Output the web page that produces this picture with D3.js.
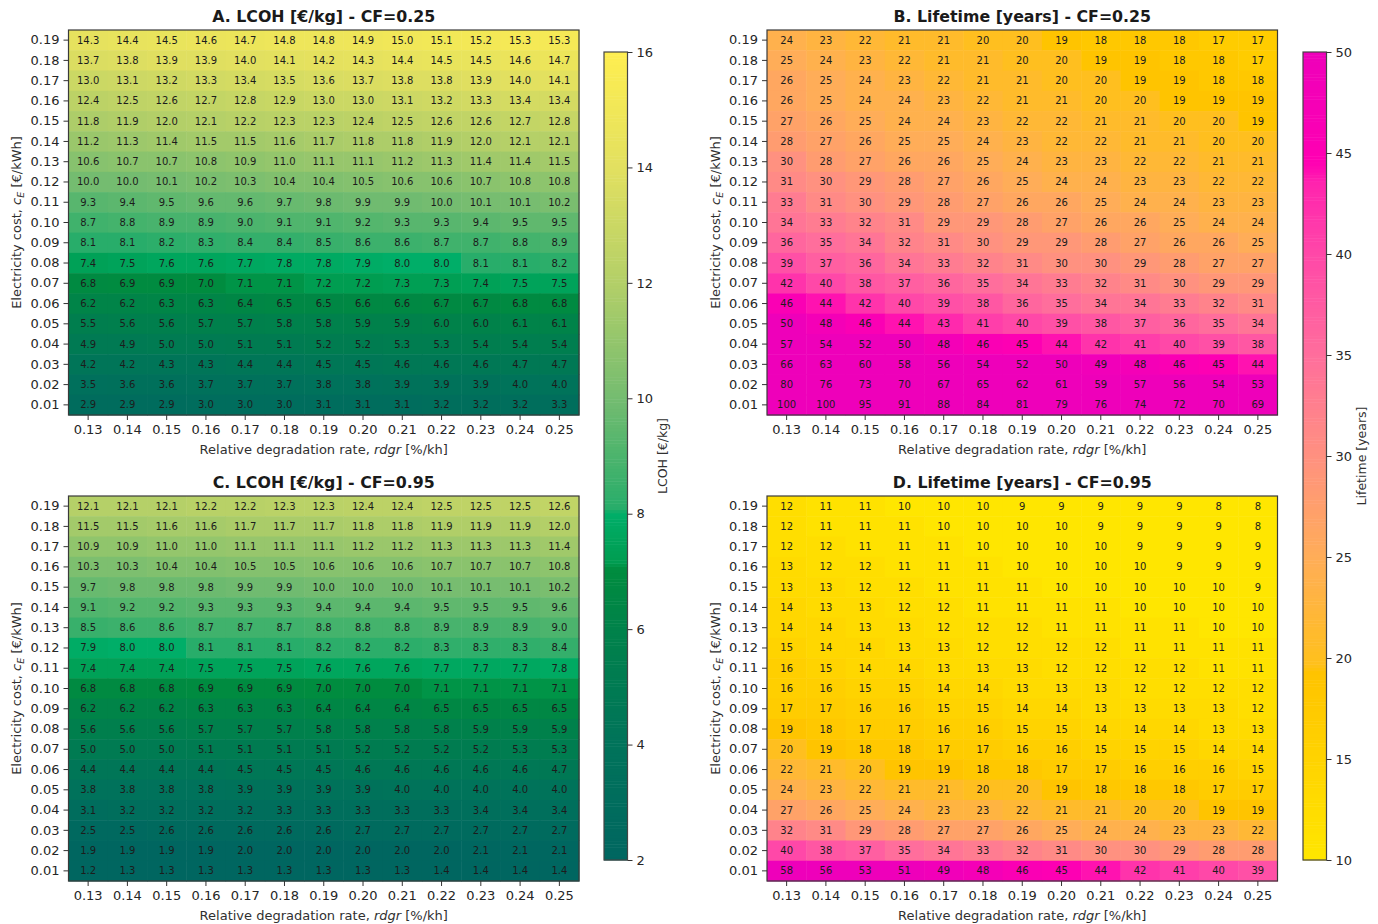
<!DOCTYPE html>
<html>
<head>
<meta charset="utf-8">
<script src="https://cdn.jsdelivr.net/npm/d3@7"></script>
<style>
html, body { margin: 0; padding: 0; background: #fff; }
svg { display: block; }
text { font-family: "DejaVu Sans", sans-serif; fill: #262626; }
.domain { display: none; }
.tick line { stroke: #333; }
.cell-label { font-size: 10px; fill: #1c1c1c; text-anchor: middle; dominant-baseline: central; }
.title { font-size: 15.8px; font-weight: bold; text-anchor: middle; fill: #1a1a1a; }
.axis-label { font-size: 13px; text-anchor: middle; fill: #303030; }
.cbar-label { font-size: 12.5px; text-anchor: middle; fill: #303030; }
</style>
</head>
<body>
<svg class="chart" width="1378" height="924"></svg>
<script>
var degradation = ['0.13', '0.14', '0.15', '0.16', '0.17', '0.18', '0.19', '0.20', '0.21', '0.22', '0.23', '0.24', '0.25'];
var electricity = ['0.19', '0.18', '0.17', '0.16', '0.15', '0.14', '0.13', '0.12', '0.11', '0.10', '0.09', '0.08', '0.07', '0.06', '0.05', '0.04', '0.03', '0.02', '0.01'];

var lcohLow = [
    [14.3, 14.4, 14.5, 14.6, 14.7, 14.8, 14.8, 14.9, 15.0, 15.1, 15.2, 15.3, 15.3],
    [13.7, 13.8, 13.9, 13.9, 14.0, 14.1, 14.2, 14.3, 14.4, 14.5, 14.5, 14.6, 14.7],
    [13.0, 13.1, 13.2, 13.3, 13.4, 13.5, 13.6, 13.7, 13.8, 13.8, 13.9, 14.0, 14.1],
    [12.4, 12.5, 12.6, 12.7, 12.8, 12.9, 13.0, 13.0, 13.1, 13.2, 13.3, 13.4, 13.4],
    [11.8, 11.9, 12.0, 12.1, 12.2, 12.3, 12.3, 12.4, 12.5, 12.6, 12.6, 12.7, 12.8],
    [11.2, 11.3, 11.4, 11.5, 11.5, 11.6, 11.7, 11.8, 11.8, 11.9, 12.0, 12.1, 12.1],
    [10.6, 10.7, 10.7, 10.8, 10.9, 11.0, 11.1, 11.1, 11.2, 11.3, 11.4, 11.4, 11.5],
    [10.0, 10.0, 10.1, 10.2, 10.3, 10.4, 10.4, 10.5, 10.6, 10.6, 10.7, 10.8, 10.8],
    [9.3, 9.4, 9.5, 9.6, 9.6, 9.7, 9.8, 9.9, 9.9, 10.0, 10.1, 10.1, 10.2],
    [8.7, 8.8, 8.9, 8.9, 9.0, 9.1, 9.1, 9.2, 9.3, 9.3, 9.4, 9.5, 9.5],
    [8.1, 8.1, 8.2, 8.3, 8.4, 8.4, 8.5, 8.6, 8.6, 8.7, 8.7, 8.8, 8.9],
    [7.4, 7.5, 7.6, 7.6, 7.7, 7.8, 7.8, 7.9, 8.0, 8.0, 8.1, 8.1, 8.2],
    [6.8, 6.9, 6.9, 7.0, 7.1, 7.1, 7.2, 7.2, 7.3, 7.3, 7.4, 7.5, 7.5],
    [6.2, 6.2, 6.3, 6.3, 6.4, 6.5, 6.5, 6.6, 6.6, 6.7, 6.7, 6.8, 6.8],
    [5.5, 5.6, 5.6, 5.7, 5.7, 5.8, 5.8, 5.9, 5.9, 6.0, 6.0, 6.1, 6.1],
    [4.9, 4.9, 5.0, 5.0, 5.1, 5.1, 5.2, 5.2, 5.3, 5.3, 5.4, 5.4, 5.4],
    [4.2, 4.2, 4.3, 4.3, 4.4, 4.4, 4.5, 4.5, 4.6, 4.6, 4.6, 4.7, 4.7],
    [3.5, 3.6, 3.6, 3.7, 3.7, 3.7, 3.8, 3.8, 3.9, 3.9, 3.9, 4.0, 4.0],
    [2.9, 2.9, 2.9, 3.0, 3.0, 3.0, 3.1, 3.1, 3.1, 3.2, 3.2, 3.2, 3.3]
];

var lcohHigh = [
    [12.1, 12.1, 12.1, 12.2, 12.2, 12.3, 12.3, 12.4, 12.4, 12.5, 12.5, 12.5, 12.6],
    [11.5, 11.5, 11.6, 11.6, 11.7, 11.7, 11.7, 11.8, 11.8, 11.9, 11.9, 11.9, 12.0],
    [10.9, 10.9, 11.0, 11.0, 11.1, 11.1, 11.1, 11.2, 11.2, 11.3, 11.3, 11.3, 11.4],
    [10.3, 10.3, 10.4, 10.4, 10.5, 10.5, 10.6, 10.6, 10.6, 10.7, 10.7, 10.7, 10.8],
    [9.7, 9.8, 9.8, 9.8, 9.9, 9.9, 10.0, 10.0, 10.0, 10.1, 10.1, 10.1, 10.2],
    [9.1, 9.2, 9.2, 9.3, 9.3, 9.3, 9.4, 9.4, 9.4, 9.5, 9.5, 9.5, 9.6],
    [8.5, 8.6, 8.6, 8.7, 8.7, 8.7, 8.8, 8.8, 8.8, 8.9, 8.9, 8.9, 9.0],
    [7.9, 8.0, 8.0, 8.1, 8.1, 8.1, 8.2, 8.2, 8.2, 8.3, 8.3, 8.3, 8.4],
    [7.4, 7.4, 7.4, 7.5, 7.5, 7.5, 7.6, 7.6, 7.6, 7.7, 7.7, 7.7, 7.8],
    [6.8, 6.8, 6.8, 6.9, 6.9, 6.9, 7.0, 7.0, 7.0, 7.1, 7.1, 7.1, 7.1],
    [6.2, 6.2, 6.2, 6.3, 6.3, 6.3, 6.4, 6.4, 6.4, 6.5, 6.5, 6.5, 6.5],
    [5.6, 5.6, 5.6, 5.7, 5.7, 5.7, 5.8, 5.8, 5.8, 5.8, 5.9, 5.9, 5.9],
    [5.0, 5.0, 5.0, 5.1, 5.1, 5.1, 5.1, 5.2, 5.2, 5.2, 5.2, 5.3, 5.3],
    [4.4, 4.4, 4.4, 4.4, 4.5, 4.5, 4.5, 4.6, 4.6, 4.6, 4.6, 4.6, 4.7],
    [3.8, 3.8, 3.8, 3.8, 3.9, 3.9, 3.9, 3.9, 4.0, 4.0, 4.0, 4.0, 4.0],
    [3.1, 3.2, 3.2, 3.2, 3.2, 3.3, 3.3, 3.3, 3.3, 3.3, 3.4, 3.4, 3.4],
    [2.5, 2.5, 2.6, 2.6, 2.6, 2.6, 2.6, 2.7, 2.7, 2.7, 2.7, 2.7, 2.7],
    [1.9, 1.9, 1.9, 1.9, 2.0, 2.0, 2.0, 2.0, 2.0, 2.0, 2.1, 2.1, 2.1],
    [1.2, 1.3, 1.3, 1.3, 1.3, 1.3, 1.3, 1.3, 1.3, 1.4, 1.4, 1.4, 1.4]
];

var lifetimeLow = [
    [24, 23, 22, 21, 21, 20, 20, 19, 18, 18, 18, 17, 17],
    [25, 24, 23, 22, 21, 21, 20, 20, 19, 19, 18, 18, 17],
    [26, 25, 24, 23, 22, 21, 21, 20, 20, 19, 19, 18, 18],
    [26, 25, 24, 24, 23, 22, 21, 21, 20, 20, 19, 19, 19],
    [27, 26, 25, 24, 24, 23, 22, 22, 21, 21, 20, 20, 19],
    [28, 27, 26, 25, 25, 24, 23, 22, 22, 21, 21, 20, 20],
    [30, 28, 27, 26, 26, 25, 24, 23, 23, 22, 22, 21, 21],
    [31, 30, 29, 28, 27, 26, 25, 24, 24, 23, 23, 22, 22],
    [33, 31, 30, 29, 28, 27, 26, 26, 25, 24, 24, 23, 23],
    [34, 33, 32, 31, 29, 29, 28, 27, 26, 26, 25, 24, 24],
    [36, 35, 34, 32, 31, 30, 29, 29, 28, 27, 26, 26, 25],
    [39, 37, 36, 34, 33, 32, 31, 30, 30, 29, 28, 27, 27],
    [42, 40, 38, 37, 36, 35, 34, 33, 32, 31, 30, 29, 29],
    [46, 44, 42, 40, 39, 38, 36, 35, 34, 34, 33, 32, 31],
    [50, 48, 46, 44, 43, 41, 40, 39, 38, 37, 36, 35, 34],
    [57, 54, 52, 50, 48, 46, 45, 44, 42, 41, 40, 39, 38],
    [66, 63, 60, 58, 56, 54, 52, 50, 49, 48, 46, 45, 44],
    [80, 76, 73, 70, 67, 65, 62, 61, 59, 57, 56, 54, 53],
    [100, 100, 95, 91, 88, 84, 81, 79, 76, 74, 72, 70, 69]
];

var lifetimeHigh = [
    [12, 11, 11, 10, 10, 10, 9, 9, 9, 9, 9, 8, 8],
    [12, 11, 11, 11, 10, 10, 10, 10, 9, 9, 9, 9, 8],
    [12, 12, 11, 11, 11, 10, 10, 10, 10, 9, 9, 9, 9],
    [13, 12, 12, 11, 11, 11, 10, 10, 10, 10, 9, 9, 9],
    [13, 13, 12, 12, 11, 11, 11, 10, 10, 10, 10, 10, 9],
    [14, 13, 13, 12, 12, 11, 11, 11, 11, 10, 10, 10, 10],
    [14, 14, 13, 13, 12, 12, 12, 11, 11, 11, 11, 10, 10],
    [15, 14, 14, 13, 13, 12, 12, 12, 12, 11, 11, 11, 11],
    [16, 15, 14, 14, 13, 13, 13, 12, 12, 12, 12, 11, 11],
    [16, 16, 15, 15, 14, 14, 13, 13, 13, 12, 12, 12, 12],
    [17, 17, 16, 16, 15, 15, 14, 14, 13, 13, 13, 13, 12],
    [19, 18, 17, 17, 16, 16, 15, 15, 14, 14, 14, 13, 13],
    [20, 19, 18, 18, 17, 17, 16, 16, 15, 15, 15, 14, 14],
    [22, 21, 20, 19, 19, 18, 18, 17, 17, 16, 16, 16, 15],
    [24, 23, 22, 21, 21, 20, 20, 19, 18, 18, 18, 17, 17],
    [27, 26, 25, 24, 23, 23, 22, 21, 21, 20, 20, 19, 19],
    [32, 31, 29, 28, 27, 27, 26, 25, 24, 24, 23, 23, 22],
    [40, 38, 37, 35, 34, 33, 32, 31, 30, 30, 29, 28, 28],
    [58, 56, 53, 51, 49, 48, 46, 45, 44, 42, 41, 40, 39]
];

var lcohTicks = [2, 4, 6, 8, 10, 12, 14, 16];
var lifetimeTicks = [10, 15, 20, 25, 30, 35, 40, 45, 50];

// colormaps, they have a step just under 8 and just under 20
var lcohColor = d3.scaleLinear()
    .domain([2, 4, 6, 7.05, 7.15, 8, 8.1, 10, 12, 14, 16])
    .range(['#006660', '#00735a', '#00824a', '#008c3e', '#009c50', '#00ae68', '#28ad6a', '#74bc70', '#b3cf68', '#e2e060', '#ffee50'])
    .clamp(true);

var lifetimeColor = d3.scaleLinear()
    .domain([10, 19.3, 19.7, 25, 30, 35, 40, 43.5, 44.5, 50])
    .range(['#ffe600', '#ffc300', '#ffc01c', '#ffad58', '#ff9180', '#ff6e9c', '#ff48a8', '#ff24ae', '#ff00b2', '#ee00ba'])
    .clamp(true);

var panels = [
    {title: 'A. LCOH [€/kg] - CF=0.25', values: lcohLow, color: lcohColor, format: d3.format('.1f'), left: 68.5, top: 30, labelX: 16},
    {title: 'B. Lifetime [years] - CF=0.25', values: lifetimeLow, color: lifetimeColor, format: d3.format('d'), left: 767, top: 30, labelX: 715},
    {title: 'C. LCOH [€/kg] - CF=0.95', values: lcohHigh, color: lcohColor, format: d3.format('.1f'), left: 68.5, top: 496, labelX: 16},
    {title: 'D. Lifetime [years] - CF=0.95', values: lifetimeHigh, color: lifetimeColor, format: d3.format('d'), left: 767, top: 496, labelX: 715}
];

var plotWidth = 510.5;
var plotHeight = 385;

var chart = d3.select('.chart');

var scaleX = d3.scaleBand().domain(degradation).range([0, plotWidth]);
var scaleY = d3.scaleBand().domain(electricity).range([0, plotHeight]);

function drawPanel(config){
    var panel = chart.append('g')
        .attr('transform', 'translate(' + [config.left, config.top] + ')');

    var rows = panel.selectAll('.row')
        .data(config.values)
        .enter().append('g')
        .attr('class', 'row')
        .attr('transform', function(d, i){ return 'translate(0,' + scaleY(electricity[i]) + ')'; });

    rows.selectAll('rect')
        .data(function(d){ return d; })
        .enter().append('rect')
        .attr('x', function(d, i){ return scaleX(degradation[i]); })
        .attr('width', scaleX.bandwidth() + 0.5)
        .attr('height', scaleY.bandwidth() + 0.5)
        .attr('fill', function(d){ return config.color(d); });

    rows.selectAll('text')
        .data(function(d){ return d; })
        .enter().append('text')
        .attr('class', 'cell-label')
        .attr('x', function(d, i){ return scaleX(degradation[i]) + scaleX.bandwidth() / 2; })
        .attr('y', scaleY.bandwidth() / 2)
        .text(config.format);

    panel.append('rect')
        .attr('width', plotWidth)
        .attr('height', plotHeight)
        .attr('fill', 'none')
        .attr('stroke', '#3a3a3a')
        .attr('stroke-width', 1.2);

    panel.append('g')
        .attr('transform', 'translate(0,' + plotHeight + ')')
        .call(d3.axisBottom(scaleX).tickSize(5).tickPadding(5))
        .call(styleTicks);

    panel.append('g')
        .call(d3.axisLeft(scaleY).tickSize(5).tickPadding(4))
        .call(styleTicks);

    chart.append('text')
        .attr('class', 'title')
        .attr('x', config.left + plotWidth / 2)
        .attr('y', config.top - 8)
        .text(config.title);

    chart.append('text')
        .attr('class', 'axis-label')
        .attr('x', config.left + plotWidth / 2)
        .attr('y', config.top + plotHeight + 39)
        .call(function(t){
            t.append('tspan').text('Relative degradation rate, ');
            t.append('tspan').attr('font-style', 'italic').text('rdgr');
            t.append('tspan').text(' [%/kh]');
        });

    chart.append('text')
        .attr('class', 'axis-label')
        .attr('transform', 'translate(' + [config.labelX + 5, config.top + plotHeight / 2] + ') rotate(-90)')
        .call(function(t){
            t.append('tspan').text('Electricity cost, ');
            t.append('tspan').attr('font-style', 'italic').text('c');
            t.append('tspan').attr('font-style', 'italic').attr('font-size', '9.5px').attr('dy', 3).text('E');
            t.append('tspan').attr('dy', -3).text(' [€/kWh]');
        });
}

function styleTicks(axis){
    axis.attr('font-family', null).attr('font-size', null);
    axis.selectAll('text').style('font-size', '13px');
    axis.selectAll('line').attr('stroke', '#333').attr('stroke-width', 1);
}

function drawColorbar(config){
    var barTop = 52;
    var barHeight = 808;
    var barWidth = 23.5;
    var steps = 256;
    var extent = config.color.domain();
    var lo = extent[0];
    var hi = extent[extent.length - 1];

    var scale = d3.scaleLinear().domain([lo, hi]).range([barHeight, 0]);
    var level = d3.scaleLinear().domain([0, steps]).range([lo, hi]);

    var bar = chart.append('g')
        .attr('transform', 'translate(' + [config.left, barTop] + ')');

    bar.selectAll('rect')
        .data(d3.range(steps))
        .enter().append('rect')
        .attr('width', barWidth)
        .attr('y', function(d){ return scale(level(d + 1)); })
        .attr('height', barHeight / steps + 0.5)
        .attr('fill', function(d){ return config.color(level(d + 0.5)); });

    bar.append('rect')
        .attr('width', barWidth)
        .attr('height', barHeight)
        .attr('fill', 'none')
        .attr('stroke', '#444')
        .attr('stroke-width', 1.2);

    bar.append('g')
        .attr('transform', 'translate(' + barWidth + ',0)')
        .call(d3.axisRight(scale).tickValues(config.ticks).tickSize(5).tickPadding(4))
        .call(styleTicks);

    chart.append('text')
        .attr('class', 'cbar-label')
        .attr('transform', 'translate(' + [config.labelX, barTop + barHeight / 2] + ') rotate(-90)')
        .text(config.label);
}

panels.forEach(drawPanel);

drawColorbar({color: lcohColor, ticks: lcohTicks, label: 'LCOH [€/kg]', left: 604, labelX: 667});
drawColorbar({color: lifetimeColor, ticks: lifetimeTicks, label: 'Lifetime [years]', left: 1303, labelX: 1366});
</script>
</body>
</html>
